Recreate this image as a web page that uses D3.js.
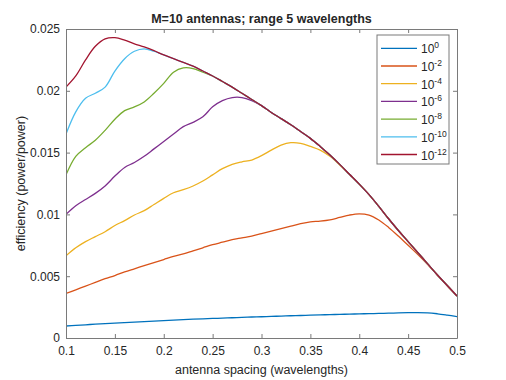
<!DOCTYPE html>
<html>
<head>
<meta charset="utf-8">
<script src="https://cdn.jsdelivr.net/npm/d3@7"></script>
<style>
  body { margin: 0; background: #fff; }
  text { font-family: "Liberation Sans", Arial, sans-serif; fill: #262626; }
</style>
</head>
<body>
<div id="chart"></div>
<script>
// antenna spacing (wavelengths), step 0.01
const spacing = [0.10,0.11,0.12,0.13,0.14,0.15,0.16,0.17,0.18,0.19,0.20,0.21,0.22,0.23,0.24,0.25,0.26,0.27,0.28,0.29,0.30,
  0.31,0.32,0.33,0.34,0.35,0.36,0.37,0.38,0.39,0.40,0.41,0.42,0.43,0.44,0.45,0.46,0.47,0.48,0.49,0.50];

// efficiency values (x 1e-3)
const eff_1e0 = [0.97,1.02,1.07,1.12,1.16,1.21,1.25,1.29,1.33,1.37,1.41,1.45,1.48,1.52,1.55,1.58,1.61,1.64,1.67,1.70,1.72,
  1.75,1.77,1.80,1.82,1.85,1.87,1.89,1.91,1.93,1.95,1.97,1.99,2.01,2.03,2.05,2.06,2.04,1.96,1.85,1.73];
const eff_1e2 = [3.6,3.9,4.2,4.5,4.8,5.05,5.35,5.6,5.85,6.1,6.35,6.6,6.8,7.05,7.3,7.55,7.75,7.95,8.1,8.25,8.45,
  8.65,8.85,9.05,9.25,9.4,9.45,9.55,9.75,9.95,10.05,9.95,9.55,8.95,8.25,7.5,6.75,5.95,5.08,4.22,3.4];
const eff_1e4 = [6.65,7.3,7.8,8.2,8.6,9.1,9.5,9.95,10.3,10.8,11.3,11.75,12.0,12.3,12.7,13.2,13.7,14.05,14.25,14.4,14.75,
  15.2,15.6,15.8,15.75,15.5,15.2,14.7,14.0,13.25,12.45,11.6,10.65,9.65,8.7,7.8,6.9,6.0,5.1,4.25,3.4];
const eff_1e6 = [10.0,10.7,11.2,11.7,12.3,13.1,13.8,14.2,14.7,15.3,15.9,16.5,17.1,17.45,17.9,18.7,19.2,19.45,19.45,19.2,18.8,
  18.25,17.75,17.25,16.7,16.15,15.5,14.8,14.05,13.25,12.45,11.6,10.65,9.65,8.7,7.8,6.9,6.0,5.1,4.25,3.4];
const eff_1e8 = [13.2,14.7,15.4,16.0,16.8,17.7,18.4,18.7,19.1,19.8,20.6,21.5,21.85,21.8,21.5,21.2,20.75,20.3,19.8,19.3,18.8,
  18.25,17.75,17.25,16.7,16.15,15.5,14.8,14.05,13.25,12.45,11.6,10.65,9.65,8.7,7.8,6.9,6.0,5.1,4.25,3.4];
const eff_1e10 = [16.5,18.3,19.4,19.8,20.3,21.6,22.6,23.2,23.4,23.2,22.9,22.6,22.3,22.0,21.6,21.2,20.75,20.3,19.8,19.3,18.8,
  18.25,17.75,17.25,16.7,16.15,15.5,14.8,14.05,13.25,12.45,11.6,10.65,9.65,8.7,7.8,6.9,6.0,5.1,4.25,3.4];
const eff_1e12 = [20.3,21.2,22.5,23.6,24.2,24.3,24.1,23.8,23.55,23.25,22.9,22.6,22.3,22.0,21.6,21.2,20.75,20.3,19.8,19.3,18.8,
  18.25,17.75,17.25,16.7,16.15,15.5,14.8,14.05,13.25,12.45,11.6,10.65,9.65,8.7,7.8,6.9,6.0,5.1,4.25,3.4];

const legendExp = ["0", "-2", "-4", "-6", "-8", "-10", "-12"];
const colors = ["#0072BD", "#D95319", "#EDB120", "#7E2F8E", "#77AC30", "#4DBEEE", "#A2142F"];
const xTicks = [0.1, 0.15, 0.2, 0.25, 0.3, 0.35, 0.4, 0.45, 0.5];
const yTicks = [0, 0.005, 0.01, 0.015, 0.02, 0.025];

const allSeries = [eff_1e0, eff_1e2, eff_1e4, eff_1e6, eff_1e8, eff_1e10, eff_1e12];

const width = 506, height = 380;
const margin = { top: 29, right: 49, bottom: 42, left: 66 };
const w = width - margin.left - margin.right,
      h = height - margin.top - margin.bottom;

const svg = d3.select("#chart").append("svg")
  .attr("width", width)
  .attr("height", height);

const g = svg.append("g")
  .attr("transform", "translate(" + margin.left + "," + margin.top + ")");

const x = d3.scaleLinear().domain([0.1, 0.5]).range([0, w]);
const y = d3.scaleLinear().domain([0, 0.025]).range([h, 0]);

const axisColor = "#7a7a7a";
const tickLen = 4;

// curves
const line = d3.line()
  .x((d, i) => x(spacing[i]))
  .y(d => y(d / 1000))
  .curve(d3.curveCatmullRom.alpha(0.5));

g.append("defs").append("clipPath").attr("id", "clip")
  .append("rect").attr("width", w).attr("height", h);

g.append("g").attr("clip-path", "url(#clip)")
  .selectAll("path")
  .data(allSeries)
  .enter().append("path")
  .attr("d", d => line(d))
  .attr("fill", "none")
  .attr("stroke", (d, i) => colors[i])
  .attr("stroke-width", 1.3);

// axes (ticks inside, box on)
const fmt = d => d === 0 ? "0" : String(+d.toFixed(3));

const xb = g.append("g").attr("transform", "translate(0," + h + ")")
  .call(d3.axisBottom(x).tickValues(xTicks).tickFormat(fmt).tickSizeInner(-tickLen).tickSizeOuter(0).tickPadding(8));
const xt = g.append("g")
  .call(d3.axisTop(x).tickValues(xTicks).tickFormat("").tickSizeInner(-tickLen).tickSizeOuter(0));
const yl = g.append("g")
  .call(d3.axisLeft(y).tickValues(yTicks).tickFormat(fmt).tickSizeInner(-tickLen).tickSizeOuter(0).tickPadding(6));
const yr = g.append("g").attr("transform", "translate(" + w + ",0)")
  .call(d3.axisRight(y).tickValues(yTicks).tickFormat("").tickSizeInner(-tickLen).tickSizeOuter(0));

[xb, xt, yl, yr].forEach(a => {
  a.selectAll("path, line").attr("stroke", axisColor);
  a.selectAll("text").attr("fill", "#262626").style("font-size", "12px")
    .style("font-family", "'Liberation Sans', Arial, sans-serif");
});

// title and labels
svg.append("text")
  .attr("x", margin.left + w / 2).attr("y", 23)
  .attr("text-anchor", "middle")
  .style("font-size", "12.5px").style("font-weight", "bold")
  .text("M=10 antennas; range 5 wavelengths");

svg.append("text")
  .attr("x", margin.left + w / 2).attr("y", 374)
  .attr("text-anchor", "middle")
  .style("font-size", "12.5px")
  .text("antenna spacing (wavelengths)");

svg.append("text")
  .attr("transform", "translate(25," + (margin.top + h / 2) + ") rotate(-90)")
  .attr("text-anchor", "middle")
  .style("font-size", "12.5px")
  .text("efficiency (power/power)");

// legend
const lg = svg.append("g").attr("transform", "translate(377,35)");
lg.append("rect")
  .attr("width", 72).attr("height", 129)
  .attr("fill", "#fff").attr("stroke", axisColor).attr("stroke-width", 1);

const rows = lg.selectAll("g.row").data(legendExp).enter().append("g")
  .attr("class", "row")
  .attr("transform", (d, i) => "translate(0," + (13.3 + i * 17.7) + ")");

rows.append("line")
  .attr("x1", 4).attr("x2", 40)
  .attr("stroke", (d, i) => colors[i]).attr("stroke-width", 1.3);

const lt = rows.append("text")
  .attr("x", 44).attr("y", 5)
  .style("font-size", "12px");
lt.append("tspan").text("10");
lt.append("tspan").attr("dy", -5).style("font-size", "8.5px").text(d => d);
</script>
</body>
</html>
